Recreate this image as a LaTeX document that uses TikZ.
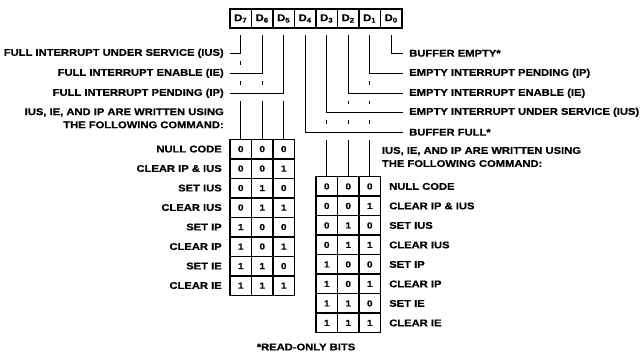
\documentclass[tikz,border=0pt]{standalone}
\usepackage{fontspec}
\setmainfont{Liberation Sans}[FakeStretch=1.15, BoldFeatures={FakeBold=0.6}]
\tikzset{
    regcell/.style={draw, line width=1.1pt, minimum width=16.1pt, minimum height=14.3pt, inner sep=0pt},
    bitcell/.style={draw, line width=1.1pt, minimum width=16.1pt, minimum height=14.6pt, inner sep=0pt,
        font=\fontsize{6.5}{7}\selectfont\bfseries},
    lbl/.style={inner xsep=4.5pt, inner ysep=1pt},
    conn/.style={line width=1.1pt, shorten <=5pt},
    gapped/.style={preaction={draw=white, line width=12pt, shorten <=5pt}},
}
\begin{document}
\begin{tikzpicture}[x=0.75pt, y=-0.75pt,
    every node/.append style={font=\fontsize{7.3}{9.8}\selectfont\bfseries}]
    \useasboundingbox (0,0) rectangle (641,357);

    % register
    \foreach \b [count=\k from 0] in {7,6,5,4,3,2,1,0}
        \node[regcell] (d\b) at ({240.75+21.5*\k},18.5) {D\textsubscript{\b}};

    % command tables
    \foreach \p/\q/\s/\cmd [count=\r from 1] in {0/0/0/NULL CODE, 0/0/1/CLEAR IP \& IUS,
            0/1/0/SET IUS, 0/1/1/CLEAR IUS, 1/0/0/SET IP, 1/0/1/CLEAR IP, 1/1/0/SET IE, 1/1/1/CLEAR IE} {
        \node[bitcell] (lt-\r-1) at (240.75,{129.55+19.5*\r}) {\p};
        \node[bitcell] (lt-\r-2) at (262.25,{129.55+19.5*\r}) {\q};
        \node[bitcell] (lt-\r-3) at (283.75,{129.55+19.5*\r}) {\s};
        \node[anchor=east, inner sep=0pt] (lc-\r) at (222,{129.55+19.5*\r}) {\cmd};
        \node[bitcell] (rt-\r-1) at (326.75,{166.95+19.5*\r}) {\p};
        \node[bitcell] (rt-\r-2) at (348.25,{166.95+19.5*\r}) {\q};
        \node[bitcell] (rt-\r-3) at (369.75,{166.95+19.5*\r}) {\s};
        \node[anchor=west, inner sep=0pt] (rc-\r) at (389,{166.95+19.5*\r}) {\cmd};
    }

    \node[anchor=east, align=right, inner sep=0pt] (lhead) at (224,118.3)
        {IUS, IE, AND IP ARE WRITTEN USING\\THE FOLLOWING COMMAND:};
    \node[anchor=west, align=left, inner sep=0pt] (rhead) at (381.7,157)
        {IUS, IE, AND IP ARE WRITTEN USING\\THE FOLLOWING COMMAND:};

    % bit labels
    \node[lbl, anchor=east] (fius) at (230,53.3) {FULL INTERRUPT UNDER SERVICE (IUS)};
    \node[lbl, anchor=east] (fie) at (230,73.3) {FULL INTERRUPT ENABLE (IE)};
    \node[lbl, anchor=east] (fip) at (230,93.3) {FULL INTERRUPT PENDING (IP)};
    \node[lbl, anchor=west] (bempty) at (403,53.3) {BUFFER EMPTY*};
    \node[lbl, anchor=west] (eip) at (403,73.3) {EMPTY INTERRUPT PENDING (IP)};
    \node[lbl, anchor=west] (eie) at (403,93.3) {EMPTY INTERRUPT ENABLE (IE)};
    \node[lbl, anchor=west] (eius) at (403,112.3) {EMPTY INTERRUPT UNDER SERVICE (IUS)};
    \node[lbl, anchor=west] (bfull) at (403,132.3) {BUFFER FULL*};
    \node (note) at (306,347) {*READ-ONLY BITS};

    % bits down to the tables
    \draw[conn] (d7.south) -- (lt-1-1.north);
    \draw[conn] (d6.south) -- (lt-1-2.north);
    \draw[conn] (d5.south) -- (lt-1-3.north);
    \draw[conn] (d3.south) -- (rt-1-1.north);
    \draw[conn] (d2.south) -- (rt-1-2.north);
    \draw[conn] (d1.south) -- (rt-1-3.north);

    % bits to labels
    \draw[conn, gapped] (d7.south) |- (fius.east);
    \draw[conn, gapped] (d6.south) |- (fie.east);
    \draw[conn, gapped] (d5.south) |- (fip.east);
    \draw[conn, gapped] (d0.south) |- (bempty.west);
    \draw[conn, gapped] (d1.south) |- (eip.west);
    \draw[conn, gapped] (d2.south) |- (eie.west);
    \draw[conn, gapped] (d3.south) |- (eius.west);
    \draw[conn, gapped] (d4.south) |- (bfull.west);
\end{tikzpicture}
\end{document}
